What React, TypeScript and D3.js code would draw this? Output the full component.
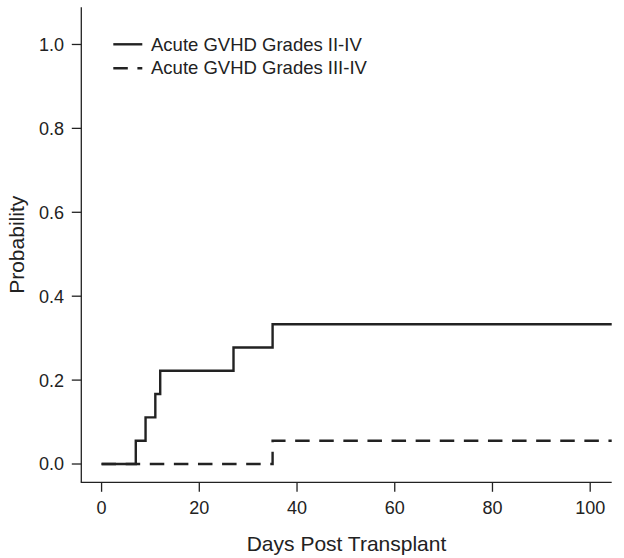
import React from "react";
import * as d3 from "d3";

const grade2to4Days = [0, 7, 9, 11, 12, 27, 35, 104.4];
const grade2to4Prob = [0, 0.0556, 0.1111, 0.1667, 0.2222, 0.2778, 0.3333, 0.3333];
const grade3to4Days = [0, 35, 104.4];
const grade3to4Prob = [0, 0.0556, 0.0556];
const xTicks = [0, 20, 40, 60, 80, 100];
const yTicks = [0, 0.2, 0.4, 0.6, 0.8, 1.0];
const legendLabels = ["Acute GVHD Grades II-IV", "Acute GVHD Grades III-IV"];

const FONT = "'Liberation Sans', Arial, Helvetica, sans-serif";

export default function App() {
  const W = 624, H = 558;
  const x = d3.scaleLinear().domain([-4.15, 104.4]).range([81.3, 611.7]);
  const y = d3.scaleLinear().domain([-0.0436, 1.0886]).range([482.3, 7.3]);
  const line = d3
    .line<[number, number]>()
    .x((d) => x(d[0]))
    .y((d) => y(d[1]))
    .curve(d3.curveStepAfter);
  const solid = line(grade2to4Days.map((d, i) => [d, grade2to4Prob[i]] as [number, number])) || "";
  const dashed = line(grade3to4Days.map((d, i) => [d, grade3to4Prob[i]] as [number, number])) || "";
  const [x0, x1] = x.range();
  const [y0, y1] = y.range();
  const dash = "14.5,9.6";
  return (
    <svg width={W} height={H} style={{ position: "absolute", left: 0, top: 0, background: "#fff" }} fontFamily={FONT}>
      <rect width={W} height={H} fill="#fff" />
      {/* axes */}
      <line x1={x0} x2={x0} y1={y1} y2={y0} stroke="#222" strokeWidth={1.3} />
      <line x1={x0 - 0.6} x2={x1} y1={y0} y2={y0} stroke="#222" strokeWidth={1.3} />
      {yTicks.map((t) => (
        <g key={"y" + t}>
          <line x1={x0 - 9.5} x2={x0} y1={y(t)} y2={y(t)} stroke="#222" strokeWidth={1.3} />
          <text x={64} y={y(t)} dy="0.36em" textAnchor="end" fontSize={18} fill="#222">
            {t.toFixed(1)}
          </text>
        </g>
      ))}
      {xTicks.map((t) => (
        <g key={"x" + t}>
          <line x1={x(t)} x2={x(t)} y1={y0} y2={y0 + 9.5} stroke="#222" strokeWidth={1.3} />
          <text x={x(t)} y={514} textAnchor="middle" fontSize={18} fill="#222">
            {t}
          </text>
        </g>
      ))}
      <text x={(x0 + x1) / 2} y={551} textAnchor="middle" fontSize={21} fill="#222">
        Days Post Transplant
      </text>
      <text
        transform={`translate(24, ${(y0 + y1) / 2}) rotate(-90)`}
        textAnchor="middle"
        fontSize={21}
        fill="#222"
      >
        Probability
      </text>
      {/* curves */}
      <path d={dashed} fill="none" stroke="#222" strokeWidth={2.4} strokeDasharray={dash} />
      <path d={solid} fill="none" stroke="#222" strokeWidth={2.4} />
      {/* legend */}
      <line x1={113.3} x2={142.3} y1={44.3} y2={44.3} stroke="#222" strokeWidth={2.4} />
      <line x1={113.3} x2={142.3} y1={68.3} y2={68.3} stroke="#222" strokeWidth={2.4} strokeDasharray={dash} />
      <text x={151} y={50.7} fontSize={18.5} fill="#222">
        {legendLabels[0]}
      </text>
      <text x={151} y={74} fontSize={18.5} fill="#222">
        {legendLabels[1]}
      </text>
    </svg>
  );
}
